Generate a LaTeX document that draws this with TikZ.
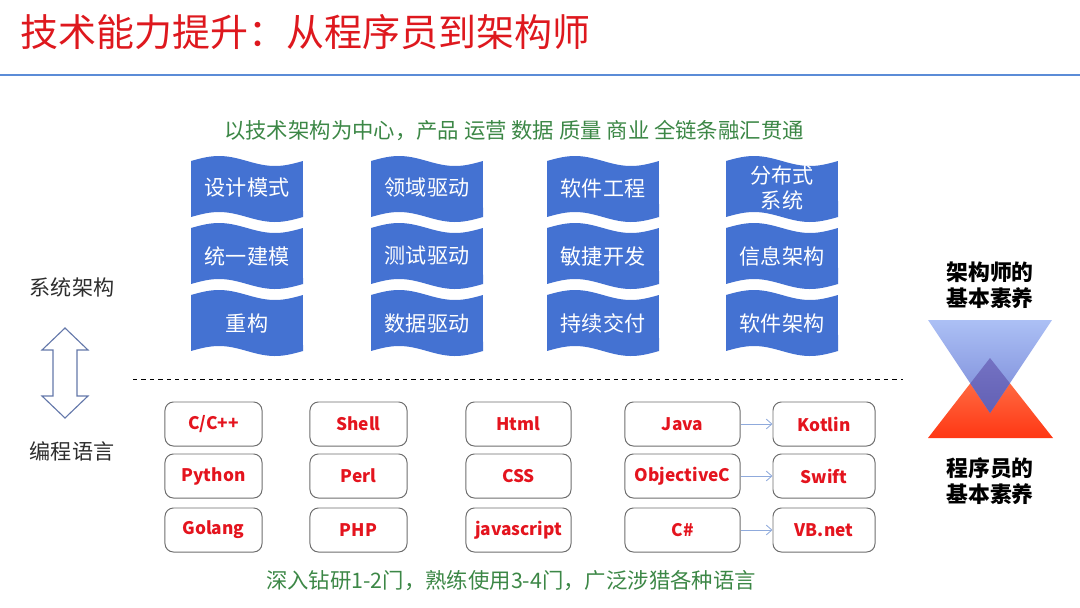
\documentclass[tikz,border=0pt]{standalone}
\usepackage{fontspec}
\setmainfont{Noto Sans CJK SC}
\usepackage{tikz}
\usetikzlibrary{arrows.meta,positioning}
\definecolor{titlered}{RGB}{222,24,30}
\definecolor{ruleblue}{RGB}{91,140,215}
\definecolor{textgreen}{RGB}{60,135,70}
\definecolor{tapeblue}{RGB}{68,114,210}
\definecolor{langred}{RGB}{228,20,30}
\definecolor{boxgray}{RGB}{110,110,110}
\definecolor{arrowblue}{RGB}{143,170,220}
\definecolor{hollowblue}{RGB}{100,120,170}
\definecolor{darktext}{RGB}{45,45,45}
% wavy blue box, centre (#1,#2)
\newcommand{\tapeshape}[2]{%
  \fill[tapeblue] plot[domain=0:1,samples=40] ({#1-56+112*\x},{#2-28-5*sin(360*\x)})
    -- plot[domain=0:1,samples=40] ({#1+56-112*\x},{#2+28+5*sin(360*\x)}) -- cycle;}

\begin{document}
\begin{tikzpicture}[x=0.025cm,y=-0.025cm,
    tapetext/.style={text=white,font=\fontsize{15pt}{18pt}\selectfont,align=center},
    langbox/.style={draw=boxgray,line width=0.7pt,rounded corners=6pt,fill=white,minimum height=1.1cm,text=langred,font=\fontsize{12.3pt}{15pt}\selectfont\bfseries},
    langarrow/.style={arrowblue,line width=0.6pt,-{Straight Barb[length=4pt,width=7pt]}},
    sidetext/.style={text=darktext,font=\fontsize{15pt}{18pt}\selectfont},
    greentext/.style={text=textgreen,font=\fontsize{15.2pt}{18pt}\selectfont},
    roletext/.style={text=black,align=center,font=\fontsize{15.5pt}{18.5pt}\selectfont\bfseries}]
  \useasboundingbox (0,0) rectangle (1080,607);
  % Title and rule
  \node[anchor=west,text=titlered,font=\fontsize{27pt}{30pt}\selectfont] (title) at (16,32) {技术能力提升：从程序员到架构师};
  \draw[ruleblue,line width=1.6pt] (0,75) -- (1080,75);
  \node[greentext] (topline) at (514,131) {以技术架构为中心，产品 运营 数据 质量 商业 全链条融汇贯通};
  % Wavy boxes
  \tapeshape{247}{189} \tapeshape{427}{189} \tapeshape{603}{189} \tapeshape{782}{189}
  \tapeshape{247}{256} \tapeshape{427}{256} \tapeshape{603}{256} \tapeshape{782}{256}
  \tapeshape{247}{323} \tapeshape{427}{323} \tapeshape{603}{323} \tapeshape{782}{323}
  \node[tapetext] (design) at (247,188) {设计模式};
  \node[tapetext] (domain) at (427,188) {领域驱动};
  \node[tapetext] (softeng) at (603,188) {软件工程};
  \node[tapetext] (distrib) at (782,188) {分布式\\系统};
  \node[tapetext] (uml) at (247,256) {统一建模};
  \node[tapetext] (tdd) at (427,256) {测试驱动};
  \node[tapetext] (agile) at (603,256) {敏捷开发};
  \node[tapetext] (infoarch) at (782,256) {信息架构};
  \node[tapetext] (refactor) at (247,323) {重构};
  \node[tapetext] (datadrv) at (427,323) {数据驱动};
  \node[tapetext] (delivery) at (603,323) {持续交付};
  \node[tapetext] (softarch) at (782,323) {软件架构};
  % Left side labels and hollow arrow
  \node[sidetext] (sysarch) at (72,287) {系统架构};
  \node[sidetext] (proglang) at (72,451) {编程语言};
  \draw[hollowblue,line width=0.8pt,fill=white,line join=miter] (65,328) -- (88,350) -- (77,350) -- (77,396) -- (88,396) -- (65,418)
    -- (42,396) -- (53,396) -- (53,350) -- (42,350) -- cycle;
  \draw[black,line width=0.6pt,dashed] (133,379) -- (903,379);
  % Language boxes
  \node[langbox,minimum width=2.425cm] (cpp) at (213.5,424) {C/C++};
  \node[langbox,minimum width=2.425cm] (python) at (213.5,476) {Python};
  \node[langbox,minimum width=2.425cm] (golang) at (213.5,530) {Golang};
  \node[langbox,minimum width=2.425cm] (shell) at (358.5,424) {Shell};
  \node[langbox,minimum width=2.425cm] (perl) at (358.5,476) {Perl};
  \node[langbox,minimum width=2.425cm] (php) at (358.5,530) {PHP};
  \node[langbox,minimum width=2.625cm] (html) at (518.5,424) {Html};
  \node[langbox,minimum width=2.625cm] (css) at (518.5,476) {CSS};
  \node[langbox,minimum width=2.625cm] (js) at (518.5,530) {javascript};
  \node[langbox,minimum width=2.875cm] (java) at (682.5,424) {Java};
  \node[langbox,minimum width=2.875cm] (objc) at (682.5,476) {ObjectiveC};
  \node[langbox,minimum width=2.875cm] (csharp) at (682.5,530) {C\#};
  \node[langbox,minimum width=2.55cm] (kotlin) at (824,424) {Kotlin};
  \node[langbox,minimum width=2.55cm] (swift) at (824,476) {Swift};
  \node[langbox,minimum width=2.55cm] (vbnet) at (824,530) {VB.net};
  \draw[langarrow] (java) -- (kotlin);
  \draw[langarrow] (objc) -- (swift);
  \draw[langarrow] (csharp) -- (vbnet);
  \node[greentext] (bottomline) at (511,581) {深入钻研1-2门，熟练使用3-4门，广泛涉猎各种语言};
  % Two triangles on the right
  \shade[top color={rgb,255:red,255;green,128;blue,85},bottom color={rgb,255:red,255;green,55;blue,20}] (990,358) -- (1053,438) -- (928,438) -- cycle;
  \shade[top color={rgb,255:red,172;green,192;blue,245},bottom color={rgb,255:red,118;green,134;blue,214}] (928,320) -- (1052,320) -- (990,413) -- cycle;
  \begin{scope}
    \clip (990,358) -- (1053,438) -- (928,438) -- cycle;
    \shade[top color={rgb,255:red,128;green,126;blue,205},bottom color={rgb,255:red,98;green,96;blue,180}] (928,320) -- (1052,320) -- (990,413) -- cycle;
  \end{scope}
  \node[roletext] (archrole) at (990,285) {架构师的\\基本素养};
  \node[roletext] (devrole) at (990,481) {程序员的\\基本素养};
\end{tikzpicture}
\end{document}
